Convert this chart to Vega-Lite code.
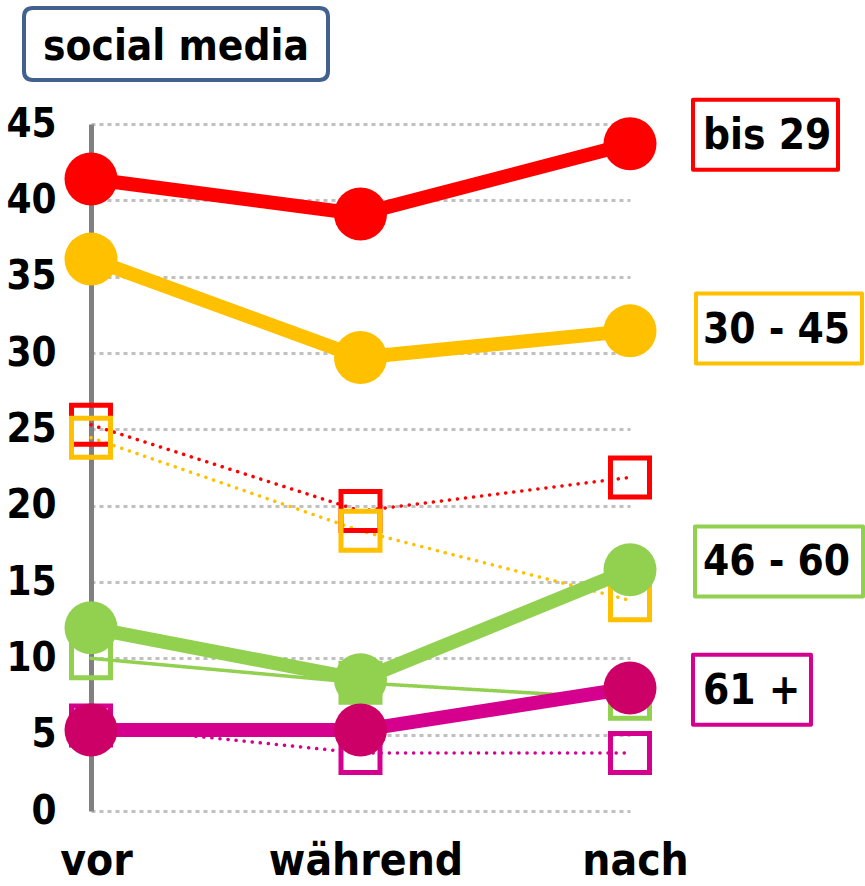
{
  "$schema": "https://vega.github.io/schema/vega-lite/v6.json",
  "width": 539,
  "height": 687,
  "autosize": {"type": "none"},
  "padding": {"left": 91, "top": 124, "right": 235, "bottom": 75},
  "background": "white",
  "config": {"view": {"stroke": null}},
  "datasets": {
    "werte": [
      {"gruppe": "bis 29", "reihe": "B", "zeit": "vor", "wert": 25.3},
      {"gruppe": "bis 29", "reihe": "B", "zeit": "während", "wert": 19.65},
      {"gruppe": "bis 29", "reihe": "B", "zeit": "nach", "wert": 21.85},
      {"gruppe": "30 - 45", "reihe": "B", "zeit": "vor", "wert": 24.45},
      {"gruppe": "30 - 45", "reihe": "B", "zeit": "während", "wert": 18.35},
      {"gruppe": "30 - 45", "reihe": "B", "zeit": "nach", "wert": 13.8},
      {"gruppe": "46 - 60", "reihe": "B", "zeit": "vor", "wert": 10.0},
      {"gruppe": "46 - 60", "reihe": "B", "zeit": "während", "wert": 8.4},
      {"gruppe": "46 - 60", "reihe": "B", "zeit": "nach", "wert": 7.35},
      {"gruppe": "61 +", "reihe": "B", "zeit": "vor", "wert": 5.6},
      {"gruppe": "61 +", "reihe": "B", "zeit": "während", "wert": 3.8},
      {"gruppe": "61 +", "reihe": "B", "zeit": "nach", "wert": 3.8},
      {"gruppe": "bis 29", "reihe": "A", "zeit": "vor", "wert": 41.4},
      {"gruppe": "bis 29", "reihe": "A", "zeit": "während", "wert": 39.1},
      {"gruppe": "bis 29", "reihe": "A", "zeit": "nach", "wert": 43.7},
      {"gruppe": "30 - 45", "reihe": "A", "zeit": "vor", "wert": 36.15},
      {"gruppe": "30 - 45", "reihe": "A", "zeit": "während", "wert": 29.7},
      {"gruppe": "30 - 45", "reihe": "A", "zeit": "nach", "wert": 31.45},
      {"gruppe": "46 - 60", "reihe": "A", "zeit": "vor", "wert": 12.0},
      {"gruppe": "46 - 60", "reihe": "A", "zeit": "während", "wert": 8.6},
      {"gruppe": "46 - 60", "reihe": "A", "zeit": "nach", "wert": 15.8},
      {"gruppe": "61 +", "reihe": "A", "zeit": "vor", "wert": 5.3},
      {"gruppe": "61 +", "reihe": "A", "zeit": "während", "wert": 5.3},
      {"gruppe": "61 +", "reihe": "A", "zeit": "nach", "wert": 8.05}
    ],
    "labels": [
      {"gruppe": "bis 29", "lage": 44.3},
      {"gruppe": "30 - 45", "lage": 31.6},
      {"gruppe": "46 - 60", "lage": 16.35},
      {"gruppe": "61 +", "lage": 7.95}
    ],
    "titel": [
      {"text": "social media"}
    ]
  },
  "layer": [
    {
      "data": {"name": "werte"},
      "transform": [{"filter": "datum.reihe === 'B'"}],
      "mark": {"type": "line", "strokeWidth": 3.5, "strokeCap": "round"},
      "encoding": {
        "x": {
          "field": "zeit",
          "type": "ordinal",
          "scale": {"type": "point", "domain": ["vor", "während", "nach"], "padding": 0},
          "axis": {
            "title": null,
            "domain": false,
            "ticks": false,
            "grid": false,
            "labelAngle": 0,
            "labelFont": "DejaVu Sans Condensed",
            "labelFontWeight": "bold",
            "labelFontSize": 44,
            "labelColor": "black",
            "labelBaseline": "alphabetic",
            "labelPadding": 63,
            "labelOffset": 5,
            "labelLimit": 0,
            "labelOverlap": false
          }
        },
        "y": {
          "field": "wert",
          "type": "quantitative",
          "scale": {"domain": [0, 45], "nice": false},
          "axis": {
            "title": null,
            "values": [0, 5, 10, 15, 20, 25, 30, 35, 40, 45],
            "ticks": false,
            "labelFont": "DejaVu Sans Condensed",
            "labelFontWeight": "bold",
            "labelFontSize": 40,
            "labelColor": "black",
            "labelPadding": 35,
            "domainColor": "#808080",
            "domainWidth": 5,
            "grid": true,
            "gridColor": "#C0C0C0",
            "gridWidth": 3,
            "gridDash": [4, 4]
          }
        },
        "color": {
          "field": "gruppe",
          "type": "nominal",
          "scale": {"domain": ["bis 29", "30 - 45", "46 - 60", "61 +"], "range": ["#FF0000", "#FFC000", "#92D050", "#D6008F"]},
          "legend": null
        },
        "strokeDash": {
          "field": "gruppe",
          "type": "nominal",
          "scale": {"domain": ["bis 29", "30 - 45", "46 - 60", "61 +"], "range": [[0.1, 8], [0.1, 8], [1, 0], [0.1, 8]]},
          "legend": null
        }
      }
    },
    {
      "data": {"name": "werte"},
      "transform": [{"filter": "datum.reihe === 'B'"}],
      "mark": {"type": "point", "shape": "square", "filled": false, "size": 1521, "strokeWidth": 5, "opacity": 1},
      "encoding": {
        "x": {"field": "zeit", "type": "ordinal"},
        "y": {"field": "wert", "type": "quantitative"},
        "color": {"field": "gruppe", "type": "nominal", "legend": null}
      }
    },
    {
      "data": {"name": "werte"},
      "transform": [{"filter": "datum.reihe === 'A'"}],
      "mark": {"type": "line", "strokeWidth": 14},
      "encoding": {
        "x": {"field": "zeit", "type": "ordinal"},
        "y": {"field": "wert", "type": "quantitative"},
        "color": {"field": "gruppe", "type": "nominal", "legend": null}
      }
    },
    {
      "data": {"name": "werte"},
      "transform": [{"filter": "datum.reihe === 'A'"}],
      "mark": {"type": "point", "shape": "circle", "filled": true, "size": 2809, "opacity": 1},
      "encoding": {
        "x": {"field": "zeit", "type": "ordinal"},
        "y": {"field": "wert", "type": "quantitative"},
        "fill": {
          "field": "gruppe",
          "type": "nominal",
          "scale": {"domain": ["bis 29", "30 - 45", "46 - 60", "61 +"], "range": ["#FF0000", "#FFC000", "#92D050", "#CC0066"]},
          "legend": null
        }
      }
    },
    {
      "data": {"name": "labels"},
      "mark": {"type": "point", "filled": false, "size": 4, "strokeWidth": 4, "strokeJoin": "round", "opacity": 1},
      "encoding": {
        "x": {"datum": "nach", "type": "ordinal"},
        "y": {"field": "lage", "type": "quantitative"},
        "color": {"field": "gruppe", "type": "nominal", "legend": null},
        "shape": {
          "field": "gruppe",
          "type": "nominal",
          "scale": {
            "domain": ["bis 29", "30 - 45", "46 - 60", "61 +"],
            "range": ["M63,-35H208V35H63Z", "M66,-35H232V35H66Z", "M65,-35H233V35H65Z", "M63,-35H181V35H63Z"]
          },
          "legend": null
        }
      }
    },
    {
      "data": {"name": "labels"},
      "mark": {"type": "text", "align": "left", "baseline": "middle", "dx": 73, "dy": 1, "font": "DejaVu Sans Condensed", "fontWeight": "bold", "fontSize": 42, "color": "black"},
      "encoding": {
        "x": {"datum": "nach", "type": "ordinal"},
        "y": {"field": "lage", "type": "quantitative"},
        "text": {"field": "gruppe"}
      }
    },
    {
      "data": {"name": "titel"},
      "mark": {"type": "point", "filled": false, "size": 4, "strokeWidth": 4, "color": "#41628F", "opacity": 1,
        "shape": "M-58,-116H228Q237,-116 237,-107V-53Q237,-44 228,-44H-58Q-67,-44 -67,-53V-107Q-67,-116 -58,-116Z"},
      "encoding": {
        "x": {"datum": "vor", "type": "ordinal"},
        "y": {"datum": 45, "type": "quantitative"}
      }
    },
    {
      "data": {"name": "titel"},
      "mark": {"type": "text", "align": "center", "baseline": "alphabetic", "dx": 85, "dy": -64, "font": "DejaVu Sans Condensed", "fontWeight": "bold", "fontSize": 42, "color": "black"},
      "encoding": {
        "x": {"datum": "vor", "type": "ordinal"},
        "y": {"datum": 45, "type": "quantitative"},
        "text": {"field": "text"}
      }
    }
  ]
}
